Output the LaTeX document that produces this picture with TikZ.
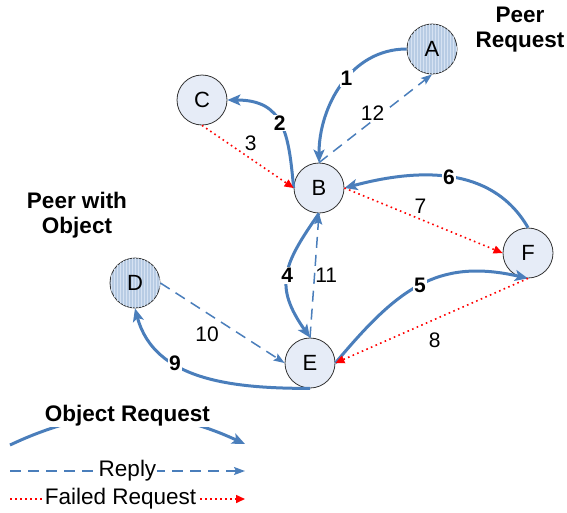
\documentclass[tikz,border=0pt]{standalone}
\usepackage{fontspec}
\setmainfont{Liberation Sans}
\usetikzlibrary{arrows.meta,patterns}

\definecolor{edgeblue}{RGB}{74,126,187}
\definecolor{peerfill}{RGB}{230,236,247}
\definecolor{holdfill}{RGB}{184,204,228}
\definecolor{holdline}{RGB}{214,226,242}

\tikzset{
  peer/.style={circle,draw=black!80,line width=0.8pt,fill=peerfill,
    minimum size=50pt,inner sep=0pt,font=\fontsize{22}{25}\selectfont},
  holder/.style={peer,fill=holdfill,
    postaction={pattern=vertical lines,pattern color=holdline}},
  req/.style={draw=edgeblue,line width=3pt,
    -{Stealth[length=13pt,width=11pt,inset=3pt]}},
  reply/.style={draw=edgeblue,line width=1.5pt,dash pattern=on 11pt off 7pt,
    -{Stealth[length=11pt,width=8pt,inset=2pt]}},
  fail/.style={draw=red,line width=1.6pt,dash pattern=on 1.6pt off 3.4pt,
    -{Triangle[length=9pt,width=8pt]}},
  num/.style={font=\fontsize{21}{24}\selectfont,inner sep=1pt},
  title/.style={font=\fontsize{22.5}{25}\selectfont\bfseries,align=center},
  legtext/.style={font=\fontsize{22.5}{25}\selectfont,fill=white,inner sep=1pt},
}

\begin{document}
\begin{tikzpicture}[x=1pt,y=-1pt]
  \useasboundingbox (0,0) rectangle (567,512);

  \begin{scope}[every node/.style={peer}]
    \node (C) at (202,100) {C};
    \node (B) at (319,188) {B};
    \node (F) at (528,253) {F};
    \node (E) at (310,363) {E};
  \end{scope}

  \node[holder] (A) at (432,49)  {A};
  \node[holder] (D) at (135,283) {D};

  \node[title] (peerreq) at (520,30)  {Peer\\Request};
  \node[title] (peerobj) at (77,215)  {Peer with\\Object};

  % object requests
  \begin{scope}[every node/.style={num,fill=white}]
    \path (A) edge[req,out=180,in=90] node[pos=.45] {\textbf{1}} (B);
    \path (B.west) edge[req,out=95,in=0,looseness=1.3] node {\textbf{2}} (C);
    \path (B.south) edge[req,out=-125,in=125,looseness=1.3] node {\textbf{4}} (E.north);
    \path (E.east) edge[req,out=50,in=167,looseness=1.15] node {\textbf{5}} (F.south);
    \path (F.north) edge[req,out=120,in=15] node {\textbf{6}} (B.east);
    \path (E.south) edge[req,out=180,in=-75] node[pos=.65] {\textbf{9}} (D.south);
  \end{scope}

  % replies and failed requests
  \begin{scope}[every node/.style={num}]
    \path (C.south) edge[fail] node[above=4pt,xshift=3pt] {3} (B.west);
    \path (B.east)  edge[fail] node[above=5pt,xshift=-3pt] {7} (F.west);
    \path (F.south) edge[fail] node[below=10pt,xshift=3pt] {8} (E.east);
    \path (D.east)  edge[reply] node[below left=2pt] {10} (E.west);
    \path (E.north) edge[reply] node[right=-1pt] {11} (B.south);
    \path (B.north) edge[reply] node[fill=white,xshift=-3pt,yshift=5pt] {12} (A.south);
  \end{scope}

  % legend
  \coordinate (objL)  at (10,445);
  \coordinate (objR)  at (245,444);
  \coordinate (repL)  at (10,471);
  \coordinate (repR)  at (245,471);
  \coordinate (failL) at (10,499);
  \coordinate (failR) at (245,499);

  \path (objL) edge[req,bend left=25] node[title,fill=white,inner sep=1pt] {Object Request} (objR);
  \path (repL) edge[reply] node[legtext] {Reply} (repR);
  \path (failL) edge[fail] node[legtext,pos=.47] {Failed Request} (failR);

\end{tikzpicture}
\end{document}
